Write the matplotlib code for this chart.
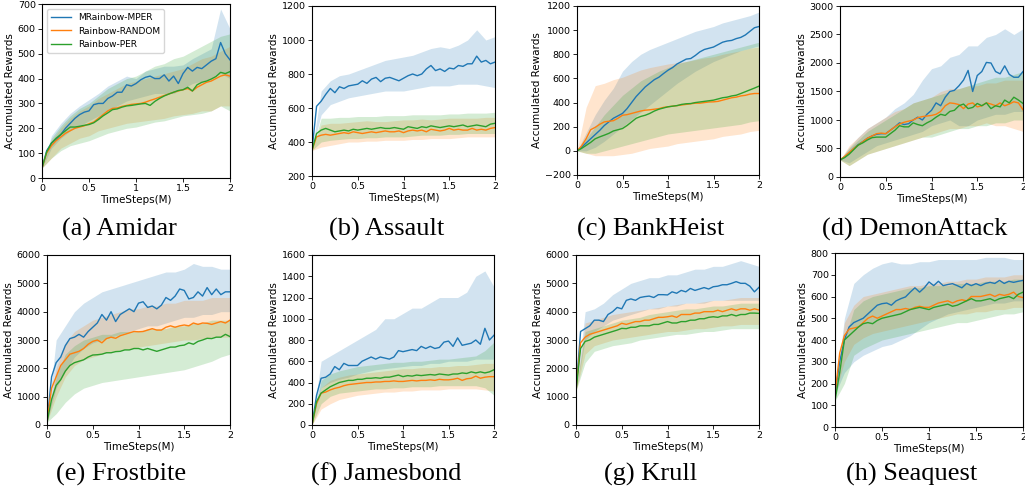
import numpy as np
import matplotlib
matplotlib.use("Agg")
import matplotlib.pyplot as plt

# x grids (millions of timesteps)
x_mean = np.linspace(0, 2, 41)
x_band = np.linspace(0, 2, 21)

methods = ["MRainbow-MPER", "Rainbow-RANDOM", "Rainbow-PER"]
colors = ["tab:blue", "tab:orange", "tab:green"]

# ---------------- Amidar
amidar_mper = [40, 110, 140, 155, 175, 200, 220, 240, 255, 265, 270, 295, 300, 300, 320, 330, 345, 345, 375, 370,
               380, 395, 405, 410, 400, 400, 415, 390, 410, 380, 420, 445, 430, 445, 440, 455, 470, 480, 545, 500, 475]
amidar_random = [40, 100, 130, 150, 165, 180, 190, 200, 205, 210, 218, 225, 240, 255, 270, 280, 282, 288, 292, 296,
                 298, 300, 305, 312, 318, 325, 332, 338, 345, 350, 355, 360, 350, 365, 375, 385, 390, 400, 410, 415, 410]
amidar_per = [40, 105, 140, 160, 175, 190, 205, 205, 208, 212, 215, 222, 235, 250, 262, 275, 278, 285, 290, 292,
              295, 298, 300, 292, 308, 320, 330, 338, 345, 352, 355, 365, 350, 375, 385, 390, 398, 408, 425, 420, 428]
amidar_mper_hi = [40, 170, 220, 260, 290, 315, 340, 370, 390, 410, 400, 430, 440, 450, 450, 455, 480, 500, 520, 680, 600]
amidar_mper_lo = [40, 120, 160, 190, 210, 230, 250, 270, 290, 310, 320, 330, 340, 340, 340, 360, 380, 390, 400, 420, 400]
amidar_random_hi = [40, 150, 200, 240, 270, 290, 320, 340, 360, 380, 390, 400, 410, 420, 430, 440, 460, 480, 490, 510, 530]
amidar_random_lo = [40, 80, 120, 140, 160, 170, 190, 200, 210, 220, 225, 230, 235, 240, 250, 255, 260, 270, 270, 290, 290]
amidar_per_hi = [40, 160, 210, 250, 280, 300, 330, 360, 380, 400, 410, 430, 450, 460, 480, 490, 510, 530, 550, 570, 580]
amidar_per_lo = [40, 80, 110, 130, 140, 150, 165, 180, 190, 200, 205, 215, 225, 230, 240, 250, 255, 260, 270, 290, 270]

# ---------------- Assault
assault_mper = [350, 610, 640, 680, 715, 690, 725, 715, 730, 735, 740, 760, 745, 770, 780, 755, 775, 780, 770, 760,
                775, 790, 800, 790, 800, 830, 850, 820, 830, 815, 835, 830, 850, 845, 860, 860, 905, 870, 880, 860, 870]
assault_random = [350, 430, 440, 445, 440, 445, 450, 455, 450, 460, 455, 450, 455, 460, 455, 460, 465, 460, 460, 465,
                  455, 465, 470, 465, 470, 460, 475, 470, 465, 470, 480, 470, 475, 470, 470, 480, 470, 475, 470, 480, 485]
assault_per = [350, 450, 470, 480, 470, 460, 465, 470, 465, 475, 470, 475, 480, 475, 480, 485, 480, 480, 485, 480,
               475, 490, 485, 480, 490, 485, 495, 490, 485, 490, 495, 490, 495, 500, 490, 495, 500, 495, 490, 505, 510]
assault_mper_hi = [350, 700, 760, 790, 800, 820, 840, 860, 880, 890, 900, 910, 930, 950, 960, 950, 970, 1000, 1060, 1000, 1020]
assault_mper_lo = [350, 560, 620, 640, 660, 670, 680, 690, 700, 700, 700, 710, 720, 730, 730, 730, 740, 740, 740, 730, 720]
assault_random_hi = [350, 500, 510, 510, 515, 520, 525, 520, 520, 525, 530, 530, 535, 530, 535, 540, 540, 540, 540, 545, 545]
assault_random_lo = [350, 370, 380, 390, 400, 400, 405, 405, 410, 410, 410, 415, 415, 420, 420, 420, 425, 430, 430, 430, 430]
assault_per_hi = [350, 540, 540, 545, 545, 550, 550, 550, 555, 555, 555, 560, 560, 560, 560, 565, 565, 570, 570, 570, 575]
assault_per_lo = [350, 400, 410, 415, 420, 420, 425, 425, 430, 430, 430, 435, 440, 440, 440, 445, 445, 450, 450, 450, 450]

# ---------------- BankHeist
bank_mper = [0, 30, 65, 100, 135, 170, 210, 240, 270, 290, 310, 350, 400, 450, 490, 530, 560, 590, 610, 640,
             668, 690, 720, 740, 760, 765, 790, 820, 840, 850, 860, 880, 900, 910, 915, 930, 940, 960, 990, 1020, 1030]
bank_random = [0, 40, 100, 175, 195, 220, 240, 245, 250, 270, 295, 300, 310, 320, 330, 337, 340, 345, 350, 360,
               365, 370, 375, 380, 385, 390, 395, 395, 400, 405, 406, 410, 420, 430, 440, 445, 455, 460, 470, 475, 475]
bank_per = [0, 20, 45, 70, 100, 116, 130, 145, 165, 175, 185, 210, 240, 270, 285, 295, 310, 330, 345, 355,
            365, 370, 375, 385, 390, 392, 400, 405, 410, 415, 420, 430, 440, 445, 455, 461, 475, 490, 505, 520, 536]
bank_mper_hi = [0, 150, 300, 420, 520, 660, 740, 800, 840, 870, 900, 930, 960, 990, 1010, 1030, 1060, 1080, 1100, 1120, 1150]
bank_mper_lo = [0, 0, 30, 80, 140, 200, 260, 320, 380, 440, 500, 560, 610, 660, 700, 740, 770, 800, 830, 850, 870]
bank_random_hi = [0, 360, 540, 560, 590, 610, 640, 670, 690, 705, 720, 730, 740, 755, 770, 780, 800, 815, 830, 850, 860]
bank_random_lo = [0, -20, -40, -40, -40, -30, -20, 0, 20, 30, 40, 60, 70, 80, 90, 100, 120, 130, 140, 160, 170]
bank_per_hi = [0, 100, 200, 300, 380, 460, 520, 580, 620, 660, 690, 720, 740, 760, 780, 800, 820, 840, 860, 880, 900]
bank_per_lo = [0, -20, -20, 0, 20, 40, 60, 80, 100, 120, 140, 150, 160, 170, 180, 190, 200, 210, 220, 240, 250]

# ---------------- DemonAttack
demon_mper = [300, 350, 420, 500, 570, 620, 680, 720, 750, 760, 760, 820, 880, 950, 920, 935, 1000, 1050, 1000, 1100,
              1170, 1300, 1250, 1400, 1500, 1520, 1600, 1700, 1870, 1500, 1780, 1850, 2010, 2000, 1850, 1810, 1950, 1800, 1750, 1750, 1850]
demon_random = [300, 360, 430, 500, 560, 620, 680, 720, 760, 770, 760, 820, 880, 930, 960, 980, 1000, 1040, 1060, 1070,
                1080, 1100, 1150, 1250, 1300, 1290, 1270, 1200, 1280, 1300, 1230, 1250, 1300, 1280, 1250, 1300, 1250, 1280, 1320, 1300, 1180]
demon_per = [300, 340, 400, 480, 560, 600, 650, 690, 700, 700, 700, 760, 820, 900, 880, 880, 950, 920, 900, 950,
             990, 1050, 1100, 1080, 1150, 1170, 1250, 1280, 1200, 1220, 1290, 1250, 1300, 1200, 1250, 1230, 1350, 1300, 1400, 1350, 1290]
demon_mper_hi = [300, 520, 700, 850, 950, 1050, 1200, 1300, 1450, 1700, 1900, 1950, 2100, 2150, 2300, 2300, 2450, 2500, 2600, 2500, 2600]
demon_mper_lo = [300, 250, 350, 450, 550, 600, 650, 700, 750, 800, 900, 950, 1000, 900, 900, 1000, 1050, 1100, 1100, 1150, 1150]
demon_random_hi = [300, 550, 700, 850, 950, 1050, 1150, 1200, 1300, 1350, 1400, 1500, 1550, 1550, 1600, 1600, 1650, 1650, 1700, 1700, 1700]
demon_random_lo = [300, 200, 300, 400, 450, 500, 550, 600, 650, 700, 750, 800, 850, 850, 900, 900, 950, 900, 900, 850, 800]
demon_per_hi = [300, 500, 650, 800, 900, 1000, 1100, 1200, 1300, 1350, 1400, 1450, 1500, 1550, 1600, 1650, 1700, 1750, 1750, 1800, 1850]
demon_per_lo = [300, 200, 300, 400, 450, 500, 550, 600, 650, 700, 700, 750, 800, 850, 850, 900, 900, 950, 950, 1000, 1000]

# ---------------- Frostbite
frost_mper = [100, 1700, 2200, 2400, 2800, 3050, 3100, 3200, 3100, 3300, 3450, 3600, 3900, 3700, 4000, 3650, 3900, 4000, 4100, 4000,
              4300, 4350, 4150, 4200, 4100, 4230, 4500, 4400, 4550, 4800, 4750, 4450, 4500, 4700, 4550, 4850, 4600, 4800, 4600, 4700, 4700]
frost_random = [100, 1300, 1700, 2100, 2300, 2500, 2550, 2600, 2700, 2850, 2950, 3000, 2900, 3050, 3100, 3060, 3150, 3200, 3250, 3300,
                3290, 3300, 3350, 3400, 3350, 3350, 3450, 3500, 3450, 3500, 3530, 3500, 3600, 3550, 3600, 3590, 3550, 3600, 3650, 3600, 3700]
frost_per = [100, 900, 1400, 1600, 1900, 2100, 2200, 2250, 2300, 2400, 2470, 2480, 2500, 2550, 2550, 2590, 2600, 2650, 2650, 2700,
             2700, 2650, 2700, 2650, 2600, 2650, 2700, 2750, 2750, 2800, 2820, 2900, 2850, 2950, 3000, 3060, 3050, 3100, 3100, 3200, 3120]
frost_mper_hi = [100, 3000, 3500, 4000, 4300, 4500, 4700, 4800, 4900, 5000, 5100, 5200, 5300, 5400, 5400, 5500, 5700, 5600, 5600, 5500, 5500]
frost_mper_lo = [100, 1300, 1900, 2400, 2700, 2900, 3000, 3100, 3200, 3300, 3400, 3500, 3500, 3600, 3700, 3800, 3800, 3900, 3900, 4000, 4000]
frost_random_hi = [100, 2000, 2900, 3300, 3500, 3700, 3800, 3900, 4000, 4100, 4100, 4200, 4200, 4300, 4300, 4400, 4400, 4400, 4500, 4500, 4500]
frost_random_lo = [100, 1000, 1700, 2100, 2300, 2400, 2500, 2600, 2650, 2700, 2750, 2800, 2850, 2900, 2950, 3000, 3000, 3050, 3100, 3100, 3100]
frost_per_hi = [100, 1700, 2500, 2800, 3000, 3100, 3200, 3200, 3300, 3300, 3300, 3400, 3400, 3400, 3500, 3500, 3600, 3600, 3700, 3700, 3700]
frost_per_lo = [100, 400, 800, 1100, 1300, 1400, 1500, 1550, 1600, 1650, 1700, 1750, 1800, 1850, 1900, 1950, 2050, 2150, 2250, 2400, 2500]

# ---------------- Jamesbond
james_mper = [0, 280, 440, 450, 480, 550, 520, 580, 560, 560, 560, 600, 620, 640, 620, 640, 630, 620, 640, 700,
              690, 700, 710, 700, 740, 720, 740, 720, 730, 780, 790, 740, 820, 750, 760, 770, 800, 760, 910, 800, 845]
james_random = [0, 200, 300, 310, 330, 345, 355, 370, 380, 385, 390, 395, 400, 400, 405, 405, 410, 410, 415, 410,
                410, 415, 420, 415, 420, 420, 425, 420, 430, 425, 425, 430, 440, 420, 435, 440, 460, 440, 450, 455, 455]
james_per = [0, 220, 300, 330, 360, 380, 400, 410, 420, 420, 430, 430, 440, 440, 445, 440, 450, 450, 460, 470,
             455, 465, 460, 470, 465, 470, 475, 470, 480, 475, 470, 480, 480, 490, 485, 500, 490, 500, 490, 500, 520]
james_mper_hi = [0, 600, 650, 700, 750, 800, 850, 900, 1000, 1000, 1050, 1100, 1100, 1150, 1200, 1200, 1200, 1250, 1400, 1450, 1300]
james_mper_lo = [0, 350, 400, 430, 450, 480, 500, 520, 530, 540, 550, 560, 560, 580, 580, 600, 600, 600, 620, 620, 620]
james_random_hi = [0, 350, 420, 450, 470, 480, 490, 500, 510, 520, 530, 530, 540, 540, 550, 550, 560, 560, 570, 580, 580]
james_random_lo = [0, 150, 200, 240, 260, 280, 290, 300, 310, 310, 320, 320, 330, 330, 330, 340, 340, 340, 340, 330, 320]
james_per_hi = [0, 420, 480, 510, 530, 550, 560, 570, 580, 590, 590, 600, 600, 610, 620, 620, 630, 640, 650, 700, 780]
james_per_lo = [0, 200, 270, 300, 310, 320, 330, 340, 340, 350, 350, 360, 360, 360, 370, 370, 370, 370, 370, 350, 280]

# ---------------- Krull
krull_mper = [1200, 3300, 3400, 3500, 3700, 3700, 3650, 3900, 4000, 4150, 4100, 4400, 4450, 4400, 4500, 4530, 4550, 4500, 4600, 4600,
              4590, 4700, 4650, 4750, 4700, 4820, 4750, 4800, 4850, 4800, 4880, 4900, 4950, 4950, 5000, 5060, 5000, 5000, 4900, 4700, 4860]
krull_random = [1200, 2900, 3100, 3200, 3250, 3300, 3350, 3400, 3450, 3500, 3590, 3550, 3600, 3650, 3650, 3700, 3700, 3750, 3800, 3800,
                3820, 3850, 3800, 3900, 3900, 3900, 3950, 3950, 4000, 4000, 4000, 4050, 4000, 4050, 4100, 4050, 4100, 4100, 4050, 4100, 4060]
krull_per = [1200, 2700, 2950, 3000, 3100, 3150, 3200, 3250, 3300, 3350, 3410, 3400, 3450, 3450, 3500, 3500, 3500, 3550, 3550, 3600,
             3650, 3600, 3600, 3650, 3650, 3700, 3700, 3750, 3750, 3800, 3820, 3800, 3850, 3850, 3900, 3850, 3900, 3900, 3950, 3950, 3940]
krull_mper_hi = [1200, 4000, 4100, 4300, 4600, 4800, 5000, 5100, 5200, 5200, 5300, 5300, 5400, 5500, 5500, 5600, 5600, 5700, 5800, 5700, 5600]
krull_mper_lo = [1200, 3000, 3300, 3500, 3700, 3800, 3900, 4000, 4100, 4100, 4200, 4200, 4300, 4300, 4300, 4400, 4400, 4400, 4400, 4400, 4400]
krull_random_hi = [1200, 3600, 3700, 3800, 3900, 3950, 4000, 4050, 4100, 4150, 4200, 4250, 4300, 4300, 4350, 4400, 4400, 4450, 4500, 4500, 4500]
krull_random_lo = [1200, 2500, 2800, 2900, 3000, 3050, 3100, 3150, 3200, 3250, 3300, 3300, 3350, 3400, 3400, 3450, 3500, 3500, 3550, 3550, 3550]
krull_per_hi = [1200, 3300, 3400, 3500, 3600, 3700, 3750, 3800, 3900, 3950, 4000, 4050, 4100, 4100, 4150, 4200, 4200, 4250, 4300, 4300, 4300]
krull_per_lo = [1200, 2200, 2600, 2700, 2800, 2850, 2900, 3000, 3050, 3100, 3150, 3200, 3200, 3250, 3300, 3300, 3350, 3400, 3400, 3400, 3400]

# ---------------- Seaquest
sea_mper = [150, 300, 400, 460, 480, 490, 500, 520, 540, 560, 567, 570, 560, 580, 590, 598, 620, 640, 620, 640,
            667, 650, 670, 650, 655, 659, 650, 640, 660, 650, 659, 650, 660, 665, 660, 674, 660, 670, 665, 670, 674]
sea_random = [150, 340, 420, 450, 455, 460, 480, 500, 510, 500, 510, 520, 530, 540, 540, 545, 540, 550, 555, 550,
              550, 560, 570, 575, 580, 570, 580, 585, 580, 600, 600, 600, 605, 610, 600, 610, 605, 610, 620, 600, 595]
sea_per = [120, 250, 400, 420, 440, 460, 475, 480, 475, 490, 500, 505, 510, 515, 520, 530, 540, 545, 550, 545,
           540, 550, 555, 560, 565, 555, 560, 570, 580, 590, 580, 580, 585, 590, 580, 590, 595, 600, 590, 610, 620]
sea_mper_hi = [150, 500, 660, 700, 730, 750, 760, 750, 750, 760, 760, 770, 770, 770, 770, 770, 780, 780, 780, 770, 770]
sea_mper_lo = [150, 250, 300, 330, 350, 370, 380, 400, 420, 450, 480, 500, 520, 530, 540, 550, 560, 570, 570, 580, 580]
sea_random_hi = [150, 480, 560, 600, 610, 620, 630, 640, 650, 650, 660, 660, 670, 670, 680, 680, 690, 690, 690, 700, 700]
sea_random_lo = [150, 300, 380, 410, 430, 440, 450, 460, 470, 480, 490, 500, 510, 520, 520, 530, 530, 540, 540, 550, 550]
sea_per_hi = [120, 400, 540, 580, 600, 610, 620, 630, 640, 640, 650, 650, 650, 660, 660, 660, 670, 670, 670, 680, 680]
sea_per_lo = [120, 200, 330, 360, 380, 400, 410, 420, 430, 440, 450, 460, 470, 480, 480, 490, 500, 510, 520, 520, 530]

# caption, means, lows, highs, ylim, ytick step, axes box in pixels (left, right, top, bottom)
panels = [
    ("(a) Amidar", [amidar_mper, amidar_random, amidar_per], [amidar_mper_lo, amidar_random_lo, amidar_per_lo],
     [amidar_mper_hi, amidar_random_hi, amidar_per_hi], (0, 700), 100, (42, 230, 4, 178)),
    ("(b) Assault", [assault_mper, assault_random, assault_per], [assault_mper_lo, assault_random_lo, assault_per_lo],
     [assault_mper_hi, assault_random_hi, assault_per_hi], (200, 1200), 200, (312, 495, 6, 176)),
    ("(c) BankHeist", [bank_mper, bank_random, bank_per], [bank_mper_lo, bank_random_lo, bank_per_lo],
     [bank_mper_hi, bank_random_hi, bank_per_hi], (-200, 1200), 200, (577, 759, 6, 175)),
    ("(d) DemonAttack", [demon_mper, demon_random, demon_per], [demon_mper_lo, demon_random_lo, demon_per_lo],
     [demon_mper_hi, demon_random_hi, demon_per_hi], (0, 3000), 500, (840, 1023, 6, 177)),
    ("(e) Frostbite", [frost_mper, frost_random, frost_per], [frost_mper_lo, frost_random_lo, frost_per_lo],
     [frost_mper_hi, frost_random_hi, frost_per_hi], (0, 6000), 1000, (47, 230, 255, 425)),
    ("(f) Jamesbond", [james_mper, james_random, james_per], [james_mper_lo, james_random_lo, james_per_lo],
     [james_mper_hi, james_random_hi, james_per_hi], (0, 1600), 200, (312, 494, 255, 425)),
    ("(g) Krull", [krull_mper, krull_random, krull_per], [krull_mper_lo, krull_random_lo, krull_per_lo],
     [krull_mper_hi, krull_random_hi, krull_per_hi], (0, 6000), 1000, (576, 759, 255, 425)),
    ("(h) Seaquest", [sea_mper, sea_random, sea_per], [sea_mper_lo, sea_random_lo, sea_per_lo],
     [sea_mper_hi, sea_random_hi, sea_per_hi], (0, 800), 100, (835, 1023, 253, 427)),
]

W, H = 1025, 494
fig = plt.figure(figsize=(W / 100, H / 100), dpi=100)

for i, (caption, means, lows, highs, ylim, ystep, box) in enumerate(panels):
    l, r, t, b = box
    ax = fig.add_axes([l / W, 1 - b / H, (r - l) / W, (b - t) / H])
    for m, lo, hi, c, name in zip(means, lows, highs, colors, methods):
        ax.fill_between(x_band, lo, hi, color=c, alpha=0.2, linewidth=0)
        ax.plot(x_mean, m, color=c, linewidth=1.0, label=name)
    ax.set_xlim(0, 2)
    ax.set_ylim(*ylim)
    ax.set_xticks([0, 0.5, 1, 1.5, 2])
    ax.set_xticklabels(["0", "0.5", "1", "1.5", "2"])
    ax.set_yticks(np.arange(ylim[0], ylim[1] + 1, ystep))
    ax.tick_params(labelsize=6.8, length=3, width=0.6, pad=1.5)
    ax.set_xlabel("TimeSteps(M)", fontsize=7.5, labelpad=1)
    ax.set_ylabel("Accumulated Rewards", fontsize=7.5, labelpad=2)
    for s in ax.spines.values():
        s.set_linewidth(0.8)
    if i == 0:
        ax.legend(loc="upper left", fontsize=6.5, frameon=True, borderaxespad=0.6, handlelength=2.2)
    cy = 229 if i < 4 else 474
    fig.text(((l + r) / 2 - 17) / W, 1 - cy / H, caption, ha="center", va="center",
             fontsize=19, family="Liberation Serif")

fig.savefig("out.png", dpi=100)
